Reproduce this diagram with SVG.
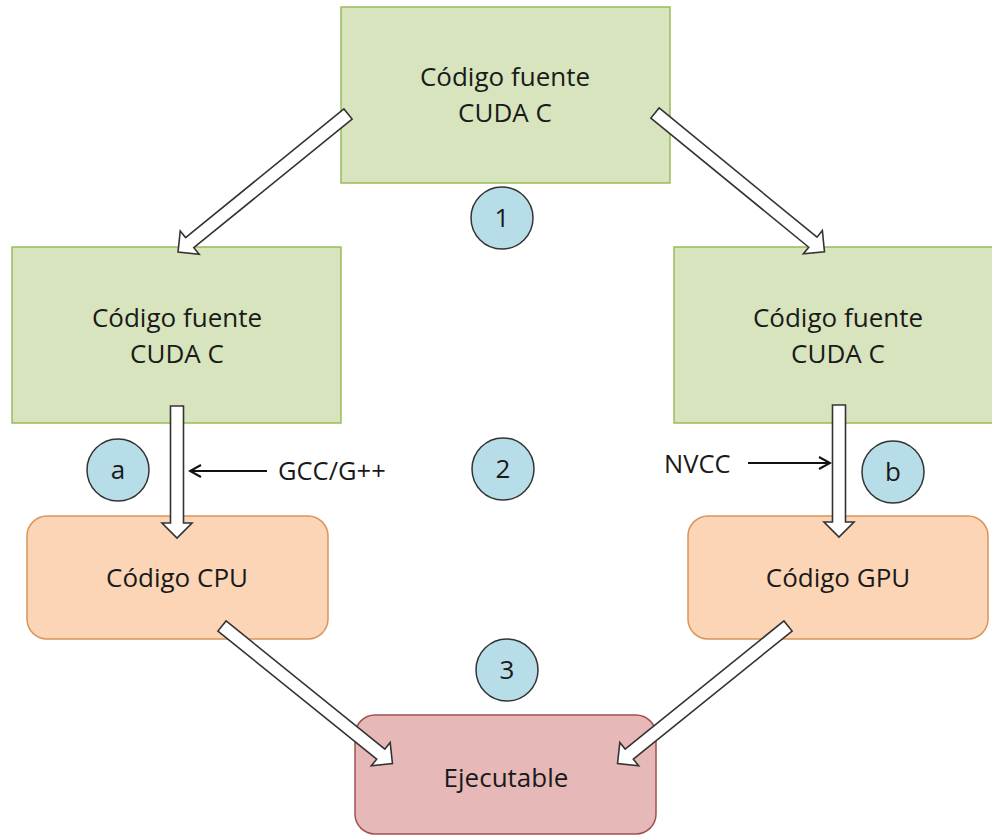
<svg xmlns="http://www.w3.org/2000/svg" width="992" height="835" viewBox="0 0 992 835">
<style>
  .green { fill: #d7e4bd; stroke: #9bbb59; stroke-width: 1.5; }
  .orange { fill: #fbd5b5; stroke: #d9955a; stroke-width: 1.5; }
  .red { fill: #e6b9b8; stroke: #a0504d; stroke-width: 1.5; }
  .step { fill: #b7dde8; stroke: #333333; stroke-width: 1.5; }
  .lbl { font-family: "Open Sans", "Liberation Sans", sans-serif; font-size: 26px; fill: #1a1a1a; text-anchor: middle; }
  .side { font-family: "Open Sans", "Liberation Sans", sans-serif; font-size: 25.5px; fill: #1a1a1a; }
  .block { fill: #ffffff; stroke: #333333; stroke-width: 1.6; stroke-linejoin: miter; }
  .thin { stroke: #111111; stroke-width: 2; fill: none; }
</style>
<defs>
  <polygon id="diag" points="0,-6.5 204,-6.5 204,-15 219,0 204,15 204,6.5 0,6.5"/>
  <polygon id="vert" points="0,-6.5 117,-6.5 117,-15 132,0 117,15 117,6.5 0,6.5"/>
  <marker id="open" markerWidth="14" markerHeight="14" refX="12" refY="7" orient="auto" markerUnits="userSpaceOnUse">
    <path d="M1,1 L12,7 L1,13" fill="none" stroke="#111111" stroke-width="2"/>
  </marker>
</defs>
<rect width="992" height="835" fill="#ffffff"/>

<g id="src-top">
  <rect class="green" x="341" y="7" width="329" height="176"/>
  <text class="lbl" x="505" y="86">Código fuente</text>
  <text class="lbl" x="505" y="122">CUDA C</text>
</g>
<g id="src-left">
  <rect class="green" x="12" y="247" width="329" height="176"/>
  <text class="lbl" x="177" y="327">Código fuente</text>
  <text class="lbl" x="177" y="363">CUDA C</text>
</g>
<g id="src-right">
  <rect class="green" x="674" y="247" width="329" height="176"/>
  <text class="lbl" x="838" y="327">Código fuente</text>
  <text class="lbl" x="838" y="363">CUDA C</text>
</g>
<g id="cpu">
  <rect class="orange" x="27" y="516" width="301" height="123" rx="20" ry="20"/>
  <text class="lbl" x="177" y="587">Código CPU</text>
</g>
<g id="gpu">
  <rect class="orange" x="688" y="516" width="300" height="123" rx="20" ry="20"/>
  <text class="lbl" x="838" y="587">Código GPU</text>
</g>
<g id="exe">
  <rect class="red" x="355" y="715" width="301" height="119" rx="20" ry="20"/>
  <text class="lbl" x="506" y="787">Ejecutable</text>
</g>
<g id="step1">
  <circle class="step" cx="502" cy="218" r="31"/>
  <text class="lbl" x="502" y="227">1</text>
</g>
<g id="step2">
  <circle class="step" cx="503" cy="469" r="31"/>
  <text class="lbl" x="503" y="478">2</text>
</g>
<g id="step3">
  <circle class="step" cx="507" cy="670" r="31"/>
  <text class="lbl" x="507" y="679">3</text>
</g>
<g id="step-a">
  <circle class="step" cx="118" cy="470" r="31"/>
  <text class="lbl" x="118" y="479">a</text>
</g>
<g id="step-b">
  <circle class="step" cx="893" cy="472" r="31"/>
  <text class="lbl" x="893" y="481">b</text>
</g>
<g id="label-gcc">
  <text class="side" x="278" y="480">GCC/G++</text>
</g>
<g id="label-nvcc">
  <text class="side" x="664" y="473">NVCC</text>
</g>

<g id="connectors">
  <use href="#diag" class="block" transform="translate(348,114) rotate(140.9)"/>
  <use href="#diag" class="block" transform="translate(655,113) rotate(39.3)"/>
  <use href="#vert" class="block" transform="translate(177,406) rotate(90)"/>
  <use href="#vert" class="block" transform="translate(839,405) rotate(90)"/>
  <use href="#diag" class="block" transform="translate(222,626) rotate(38.9)"/>
  <use href="#diag" class="block" transform="translate(788,626) rotate(141.1)"/>
  <line class="thin" x1="267" y1="471" x2="190" y2="471" marker-end="url(#open)"/>
  <line class="thin" x1="748" y1="463" x2="830" y2="463" marker-end="url(#open)"/>
</g>
</svg>
